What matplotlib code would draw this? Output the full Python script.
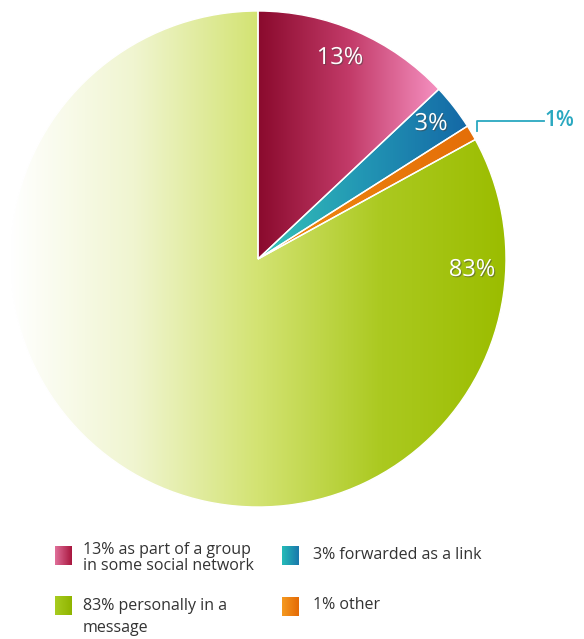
import numpy as np
import matplotlib
matplotlib.use('Agg')
import matplotlib.pyplot as plt
import matplotlib.patheffects as pe
from matplotlib.colors import LinearSegmentedColormap

plt.rcParams['font.family'] = ['Open Sans', 'DejaVu Sans']

shares = [13, 3, 1, 83]
pct_labels = ['13%', '3%', '1%', '83%']
legend_labels = ['13% as part of a group\nin some social network',
                 '3% forwarded as a link',
                 '83% personally in a\nmessage',
                 '1% other']

# left -> right colour ramps for each slice
ramps = [
    ['#8a0a2d', '#c23a68', '#f590c0'],
    ['#35c4b8', '#2296b4', '#1468a6'],
    ['#f08a10', '#e46e08'],
    ['#ffffff', '#f0f5d0', '#d3e372', '#abc920', '#9bbd00'],
]
cmaps = [LinearSegmentedColormap.from_list('r%d' % i, c) for i, c in enumerate(ramps)]

W, H = 584, 639
fig = plt.figure(figsize=(W / 100, H / 100), dpi=100)
ax = fig.add_axes([0, 0, 1, 1])

cx, cy, R = 258, 259, 248
# y is flipped below, so counterclock in data = clockwise on screen, -90 = top
wedges, _ = ax.pie(shares, center=(cx, cy), radius=R, startangle=-90,
                   counterclock=True, frame=True,
                   wedgeprops=dict(edgecolor='white', linewidth=1.0))

grad = np.linspace(0, 1, 256).reshape(1, -1)
for w, cm in zip(wedges, cmaps):
    w.set_facecolor('none')
    bb = w.get_path().get_extents(w.get_patch_transform())
    im = ax.imshow(grad, cmap=cm, extent=(bb.x0, bb.x1, bb.y1, bb.y0),
                   aspect='auto', interpolation='bilinear', zorder=0.5)
    im.set_clip_path(w)
    w.set_zorder(1)

# slice labels
shadow = [pe.withSimplePatchShadow(offset=(0.8, -0.8), shadow_rgbFace='#444444', alpha=0.5)]
for (x, y), lab in zip([(340, 58), (431, 124), (472, 270)],
                       [pct_labels[0], pct_labels[1], pct_labels[3]]):
    ax.text(x, y, lab, color='white', fontsize=17, ha='center', va='center',
            path_effects=shadow)

teal = '#2aa8c0'
ax.plot([477, 477, 544], [131, 121, 121], color=teal, lw=1.3)
ax.text(544, 121, pct_labels[2], color=teal, fontsize=15, fontweight='semibold',
        ha='left', va='center')

# legend
legend_ramps = [
    ['#e0709a', '#a8163e'],
    ['#25bcb8', '#1a78ac'],
    ['#a8cc20', '#8fb400'],
    ['#f59a20', '#e46a06'],
]
boxes = [(55, 546), (282, 546), (55, 596), (282, 597)]
text_pos = [(83, 558), (313, 555), (83, 617), (313, 605)]
spacing = [0.95, 1.0, 1.5, 1.0]
for (bx, by), rp, (tx, ty), lab, ls in zip(boxes, legend_ramps, text_pos, legend_labels, spacing):
    cm = LinearSegmentedColormap.from_list('lg', rp)
    ax.imshow(grad, cmap=cm, extent=(bx, bx + 17, by + 19, by),
              aspect='auto', interpolation='bilinear', zorder=2)
    ax.text(tx, ty, lab, fontsize=11.5, color='#333333', ha='left', va='center',
            linespacing=ls)

ax.set_xlim(0, W)
ax.set_ylim(H, 0)
ax.axis('off')
fig.savefig('out.png', dpi=100, facecolor='white')
